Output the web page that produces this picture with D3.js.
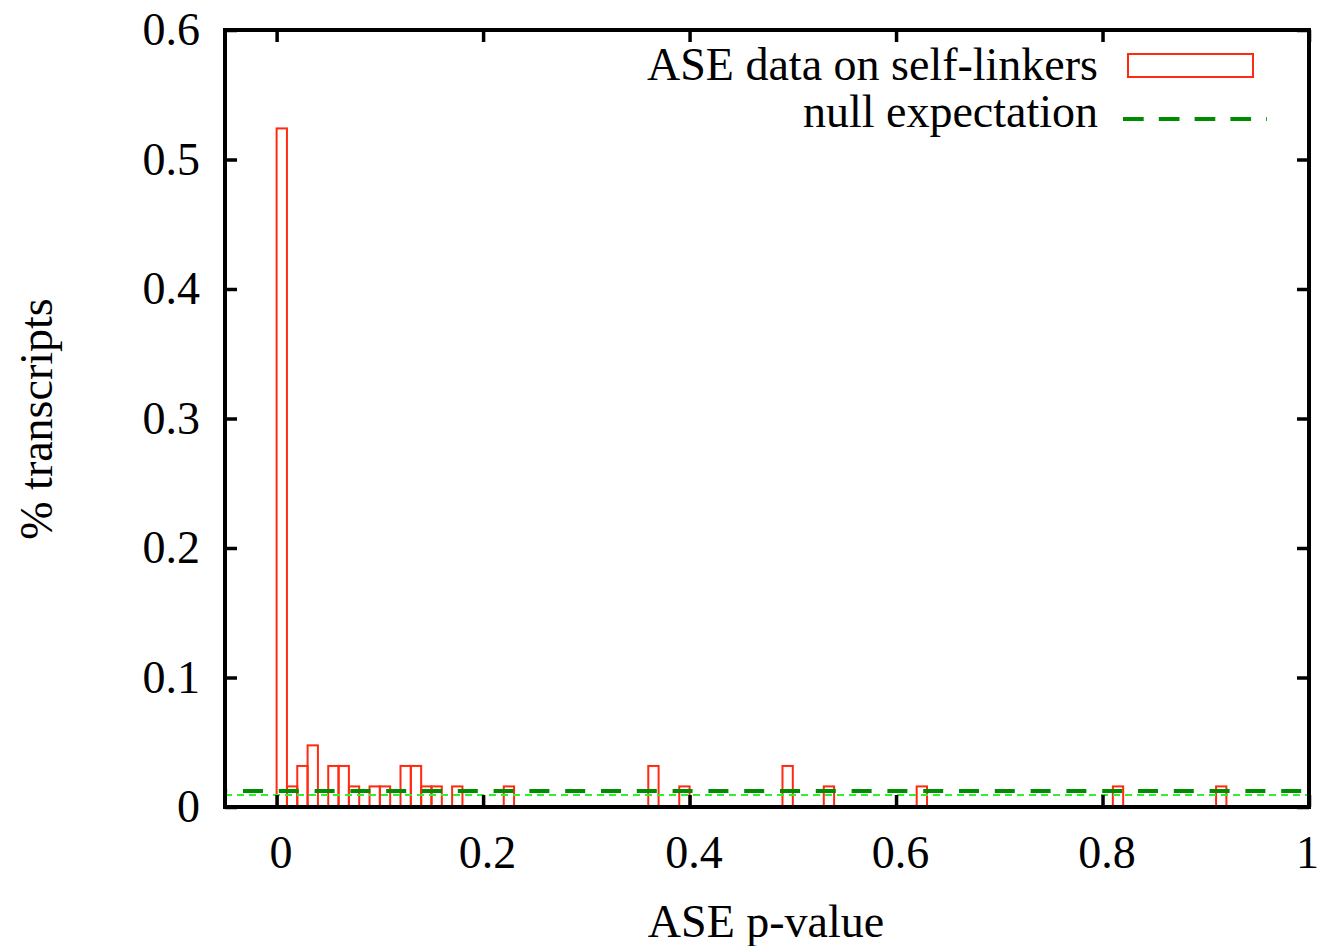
<!DOCTYPE html>
<html>
<head>
<meta charset="utf-8">
<script src="https://cdn.jsdelivr.net/npm/d3@7"></script>
<style>
  body { margin: 0; background: #fff; }
  text { font-family: "Liberation Serif", "Times New Roman", serif; fill: #000; }
</style>
</head>
<body>
<svg id="chart" width="1321" height="946"></svg>
<script>
// histogram bins (left edge, bin width 0.01) and fraction of transcripts
const binStarts = [0, 0.01, 0.02, 0.03, 0.05, 0.06, 0.07, 0.09, 0.10, 0.12, 0.13, 0.14, 0.15, 0.17,
  0.22, 0.36, 0.39, 0.49, 0.53, 0.62, 0.81, 0.91];
const binValues = [0.524, 0.0159, 0.0317, 0.0476, 0.0317, 0.0317, 0.0159, 0.0159, 0.0159, 0.0317, 0.0317, 0.0159, 0.0159, 0.0159,
  0.0159, 0.0317, 0.0159, 0.0317, 0.0159, 0.0159, 0.0159, 0.0159];
const binWidth = 0.01;

const nullExpectation = 0.0124;
const nullReference = 0.0093;

const xTicks = [0, 0.2, 0.4, 0.6, 0.8, 1];
const yTicks = [0, 0.1, 0.2, 0.3, 0.4, 0.5, 0.6];
const legendLabels = ['ASE data on self-linkers', 'null expectation'];

const svg = d3.select('#chart');
const xScale = d3.scaleLinear().domain([-0.05, 1]).range([225, 1309]);
const yScale = d3.scaleLinear().domain([0, 0.6]).range([807, 30]);
const fmt = d3.format('~g');

// bars
svg.append('g').selectAll('rect')
  .data(binStarts.map((s, i) => ({ s, v: binValues[i] })))
  .enter().append('rect')
  .attr('x', d => xScale(d.s))
  .attr('width', d => xScale(d.s + binWidth) - xScale(d.s))
  .attr('y', d => yScale(d.v))
  .attr('height', d => yScale(0) - yScale(d.v))
  .style('fill', 'none')
  .style('stroke', '#ff2a10')
  .style('stroke-width', '2px');

// null expectation lines
const line = d3.line().x(d => xScale(d[0])).y(d => yScale(d[1]));
svg.append('path')
  .attr('d', line([[-0.05, nullReference], [1, nullReference]]))
  .style('fill', 'none')
  .style('stroke', '#33ee33')
  .style('stroke-width', '2px')
  .style('stroke-dasharray', '7,5');
svg.append('path')
  .attr('d', line([[-0.05, nullExpectation], [1, nullExpectation]]))
  .style('fill', 'none')
  .style('stroke', '#008c00')
  .style('stroke-width', '4px')
  .style('stroke-dasharray', '20,15.8')
  .style('stroke-dashoffset', 17.8);

// axes (ticks inward, mirrored)
function styleAxis (g) {
  g.select('.domain').remove();
  g.selectAll('line').style('stroke', '#000').style('stroke-width', '3.5px');
  g.selectAll('text').style('font-size', '46px').style('font-family', '"Liberation Serif", serif');
}
svg.append('g').attr('transform', 'translate(0,807)')
  .call(d3.axisBottom(xScale).tickValues(xTicks).tickSize(-12).tickPadding(28).tickFormat(fmt))
  .call(styleAxis)
  .selectAll('text').attr('dx', d => d === 1 ? -2 : 4);
svg.append('g').attr('transform', 'translate(0,30)')
  .call(d3.axisTop(xScale).tickValues(xTicks).tickSize(-12).tickFormat(''))
  .call(styleAxis);
svg.append('g').attr('transform', 'translate(225,0)')
  .call(d3.axisLeft(yScale).tickValues(yTicks).tickSize(-12).tickPadding(25).tickFormat(fmt))
  .call(styleAxis);
svg.append('g').attr('transform', 'translate(1309,0)')
  .call(d3.axisRight(yScale).tickValues(yTicks).tickSize(-12).tickFormat(''))
  .call(styleAxis);

// frame
svg.append('rect')
  .attr('x', 225).attr('y', 30).attr('width', 1084).attr('height', 777)
  .style('fill', 'none').style('stroke', '#000').style('stroke-width', '4px');

// axis titles
svg.append('text')
  .attr('x', 766).attr('y', 937)
  .attr('text-anchor', 'middle')
  .style('font-size', '46px')
  .text('ASE p-value');
svg.append('text')
  .attr('transform', 'translate(52,419) rotate(-90)')
  .attr('text-anchor', 'middle')
  .style('font-size', '46px')
  .text('% transcripts');

// legend
const legend = svg.append('g');
legend.selectAll('text').data(legendLabels).enter().append('text')
  .attr('x', 1098)
  .attr('y', (d, i) => 80 + i * 47)
  .attr('text-anchor', 'end')
  .style('font-size', '46px')
  .text(d => d);
legend.append('rect')
  .attr('x', 1128).attr('y', 54).attr('width', 125).attr('height', 23)
  .style('fill', 'none').style('stroke', '#ff2a10').style('stroke-width', '2px');
legend.append('line')
  .attr('x1', 1123).attr('x2', 1267).attr('y1', 119).attr('y2', 119)
  .style('stroke', '#008c00').style('stroke-width', '4px')
  .style('stroke-dasharray', '20.7,15.1');
</script>
</body>
</html>
